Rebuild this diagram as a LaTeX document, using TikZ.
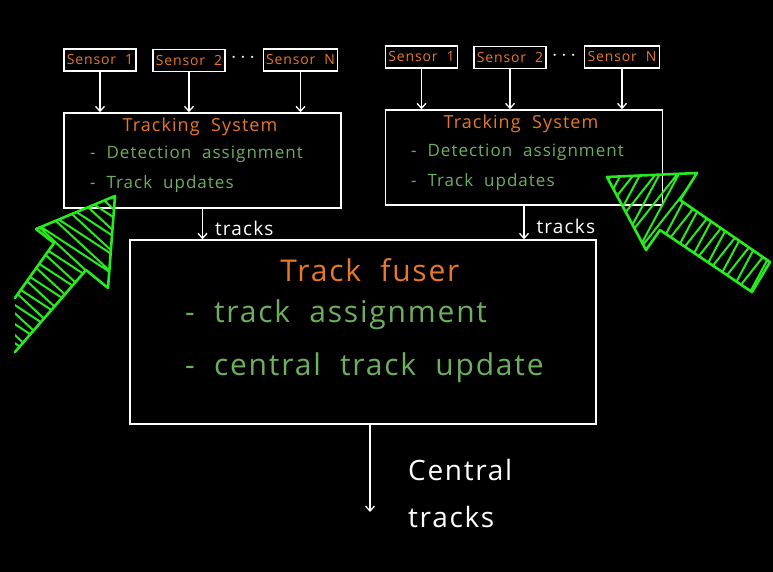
\documentclass[tikz,border=0pt]{standalone}
\usepackage{fontspec}
\setmainfont{Open Sans}
\newfontfamily\handfont[LetterSpace=6, WordSpace=2]{Open Sans}
\usetikzlibrary{arrows.meta, positioning, calc, decorations.pathmorphing}
\definecolor{sensororange}{RGB}{230, 120, 40}
\definecolor{notegreen}{RGB}{110, 175, 95}
\definecolor{hilite}{RGB}{40, 235, 30}
\tikzset{
  sensorbox/.style={draw=white, line width=1.3pt, text=sensororange, inner xsep=3pt, inner ysep=0pt, minimum height=22pt, font=\handfont\fontsize{14}{14}\selectfont},
  sysbox/.style={draw=white, line width=1.5pt, minimum width=277pt, minimum height=95pt},
  fusebox/.style={sysbox, minimum width=466pt, minimum height=184pt},
  titletext/.style={text=sensororange, inner sep=0pt, font=\handfont\fontsize{18}{18}\selectfont},
  itemtext/.style={text=notegreen, anchor=west, inner sep=0pt, font=\handfont\fontsize{17}{17}\selectfont},
  bigtitle/.style={titletext, font=\handfont\fontsize{30}{30}\selectfont},
  bigitem/.style={itemtext, font=\handfont\fontsize{30}{30}\selectfont},
  flowlabel/.style={text=white, inner sep=0pt, font=\handfont\fontsize{19}{19}\selectfont},
  dotstext/.style={text=white, font=\fontsize{20}{20}\selectfont},
  flow/.style={-{Straight Barb[length=5pt, width=9pt]}, white, line width=1.3pt},
  scribble/.style={hilite, line width=2.6pt, line join=round, line cap=round},
}

\begin{document}
\begin{tikzpicture}[x=1pt, y=-1pt]
  \fill[black] (0,0) rectangle (773,572);
  \useasboundingbox (0,0) rectangle (773,572);

  \node[sysbox] (trkL) at (202.5,160.5) {};
  \node[sysbox] (trkR) at (524,157.5) {};
  \node[fusebox] (fuse) at (363,332) {};

  \node[sensorbox] (s1L) at (100,60) {Sensor 1};
  \node[sensorbox] (s2L) at (189,60.5) {Sensor 2};
  \node[dotstext] (dotsL) at (243,58) {$\cdots$};
  \node[sensorbox] (sNL) at (300.5,60) {Sensor N};
  \node[sensorbox] (s1R) at (421.5,57) {Sensor 1};
  \node[sensorbox] (s2R) at (510,57.5) {Sensor 2};
  \node[dotstext] (dotsR) at (564,56) {$\cdots$};
  \node[sensorbox] (sNR) at (622,57) {Sensor N};

  \node[titletext] (ttlL) at (200,127) {Tracking System};
  \node[itemtext] (detL) at (90,154) {- Detection assignment};
  \node[itemtext] (updL) at (90,184) {- Track updates};
  \node[titletext] (ttlR) at (521,124) {Tracking System};
  \node[itemtext] (detR) at (411,152) {- Detection assignment};
  \node[itemtext] (updR) at (411,182) {- Track updates};

  \node[bigtitle] (ttlF) at (370,270) {Track fuser};
  \node[bigitem] (asgF) at (185,315) {- track assignment};
  \node[bigitem] (updF) at (185,368) {- central track update};

  \foreach \s in {s1L, s2L, sNL}
    \draw[flow] (\s.south) -- (\s.south |- trkL.north);
  \foreach \s in {s1R, s2R, sNR}
    \draw[flow] (\s.south) -- (\s.south |- trkR.north);

  \draw[flow] (trkL.south) -- (trkL.south |- fuse.north) node[flowlabel, midway, right=12pt, yshift=-4pt] {tracks};
  \draw[flow] (trkR.south) -- (trkR.south |- fuse.north) node[flowlabel, midway, right=12pt, yshift=-4pt] {tracks};

  \coordinate (outend) at (370,512);
  \draw[flow] (outend |- fuse.south) -- (outend);
  \node[text=white, anchor=west, align=left, inner sep=0pt, font=\handfont\fontsize{28}{47}\selectfont] (central) at (408,493) {Central\\ tracks};

  \begin{scope}
    \clip (15,298) -- (54,243) -- (36,229) -- (115,196) -- (108,288) -- (86,270) -- (15,352) -- cycle;
    \draw[scribble, line width=2pt, decorate, decoration={zigzag, segment length=16pt, amplitude=48pt}] (0,343) -- (118,192);
  \end{scope}
  \draw[scribble] (15,298) -- (54,243) -- (36,229) -- (115,196) -- (108,288) -- (86,270) -- (15,352);

  \begin{scope}
    \clip (607,177) -- (697,173) -- (680,200) -- (770,262) -- (752,292) -- (660,230) -- (646,250) -- cycle;
    \draw[scribble, line width=2pt, decorate, decoration={zigzag, segment length=17pt, amplitude=48pt}] (780,290) -- (600,172);
  \end{scope}
  \draw[scribble] (607,177) -- (697,173) -- (680,200) -- (770,262) -- (752,292) -- (660,230) -- (646,250) -- cycle;
\end{tikzpicture}
\end{document}
